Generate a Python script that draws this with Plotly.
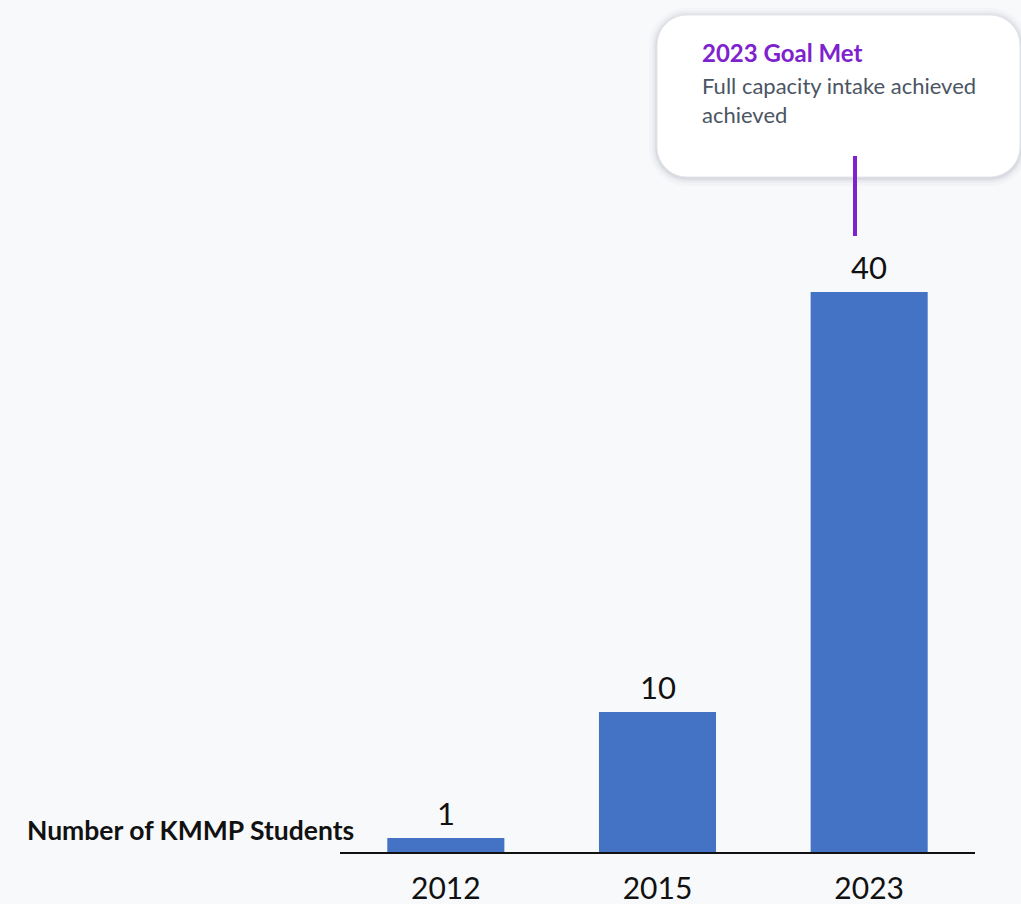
import plotly.graph_objects as go

years = ["2012", "2015", "2023"]
students = [1, 10, 40]
callout_title = "2023 Goal Met"
callout_body = "Full capacity intake achieved<br>achieved"
axis_label = "Number of KMMP Students"

W, H = 1021, 904
L, R = 340, 975
T, B = 152, 852

def px(x):
    return (x - L) / (R - L)

def py(y):
    return (B - y) / (B - T)

def rrect(x0, y0, x1, y1, r):
    k = 0.45
    def P(x, y):
        return f"{px(x):.5f},{py(y):.5f}"
    s = f"M {P(x0 + r, y0)} L {P(x1 - r, y0)} "
    s += f"C {P(x1 - r*k, y0)} {P(x1, y0 + r*k)} {P(x1, y0 + r)} "
    s += f"L {P(x1, y1 - r)} "
    s += f"C {P(x1, y1 - r*k)} {P(x1 - r*k, y1)} {P(x1 - r, y1)} "
    s += f"L {P(x0 + r, y1)} "
    s += f"C {P(x0 + r*k, y1)} {P(x0, y1 - r*k)} {P(x0, y1 - r)} "
    s += f"L {P(x0, y0 + r)} "
    s += f"C {P(x0, y0 + r*k)} {P(x0 + r*k, y0)} {P(x0 + r, y0)} Z"
    return s

fig = go.Figure()
fig.add_trace(go.Bar(
    x=years, y=students,
    marker=dict(color="#4472C4", line=dict(width=0)),
    width=0.553,
    hoverinfo="x+y",
))

shapes = []
for grow, op in [(8, 0.035), (5, 0.05), (3, 0.07), (1.5, 0.10)]:
    shapes.append(dict(type="path", xref="paper", yref="paper",
                       path=rrect(657 - grow, 15 - grow + 1, 1020 + grow, 177 + grow + 1, 30 + grow),
                       fillcolor=f"rgba(120,125,140,{op})", line=dict(width=0), layer="above"))
shapes.append(dict(type="path", xref="paper", yref="paper",
                   path=rrect(657, 15, 1020, 177, 30),
                   fillcolor="#FFFFFF", line=dict(width=1, color="#E3E5EA"), layer="above"))
shapes.append(dict(type="line", xref="paper", yref="paper",
                   x0=px(855), x1=px(855), y0=py(156), y1=py(236),
                   line=dict(color="#7E22CE", width=4), layer="above"))

annotations = [
    dict(xref="paper", yref="paper", x=px(700), y=py(52), text=f"<b>{callout_title}</b>",
         showarrow=False, xanchor="left", yanchor="middle",
         font=dict(size=24, color="#7E22CE", family="Lato")),
    dict(xref="paper", yref="paper", x=px(700), y=py(100), text=callout_body,
         showarrow=False, xanchor="left", yanchor="middle", align="left",
         font=dict(size=22, color="#4B5563", family="Lato")),
    dict(xref="paper", yref="paper", x=px(356), y=py(830), text=f"<b>{axis_label}</b>",
         showarrow=False, xanchor="right", yanchor="middle",
         font=dict(size=26.5, color="#111111", family="Lato")),
]
for i, v in enumerate(students):
    annotations.append(dict(x=i, y=v, xref="x", yref="y", text=str(v), showarrow=False,
                            xanchor="center", yanchor="bottom", yshift=4,
                            font=dict(size=31, color="#111111", family="Lato")))

fig.update_layout(
    width=W, height=H,
    margin=dict(l=L, r=W - R, t=T, b=H - B, pad=0, autoexpand=False),
    paper_bgcolor="#F8F9FB", plot_bgcolor="#F8F9FB",
    showlegend=False,
    shapes=shapes, annotations=annotations,
    font=dict(family="Lato", color="#111111"),
    xaxis=dict(type="category", range=[-0.5, 2.5], showline=True, linecolor="#111111",
               linewidth=1.5, showgrid=False, ticks="", tickfont=dict(size=30, color="#111111"),
               ticklabelstandoff=9, fixedrange=True, automargin=False),
    yaxis=dict(range=[0, 50], showticklabels=False, showline=False, ticks="", showgrid=False,
               zeroline=False, fixedrange=True, automargin=False),
)

fig.write_html("out.html", config={"displayModeBar": False},
               post_script="document.body.style.margin='0';document.body.style.background='#F8F9FB';document.documentElement.style.overflow='hidden';")
